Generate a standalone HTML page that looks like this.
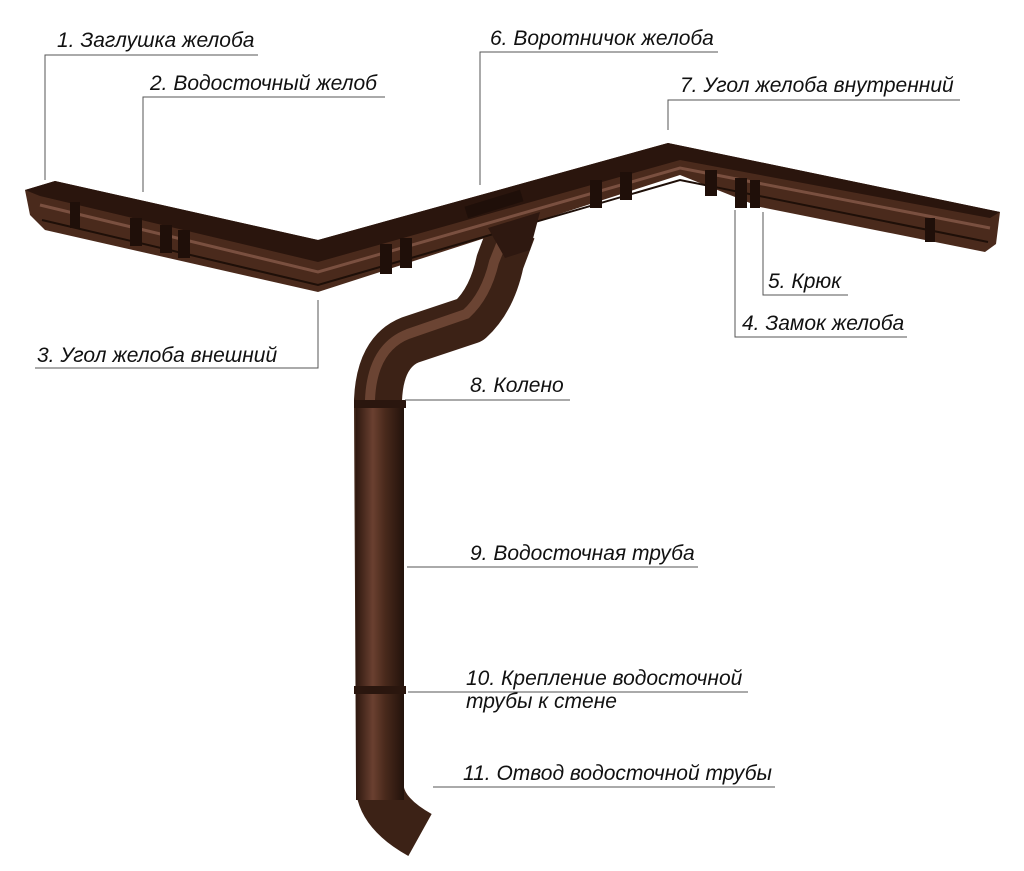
<!DOCTYPE html>
<html><head><meta charset="utf-8"><style>
html,body{margin:0;padding:0;background:#fff}
svg{display:block}
text{font-family:"Liberation Sans",sans-serif;font-style:italic;font-size:21px;fill:#111}
</style></head><body>
<svg width="1024" height="871" viewBox="0 0 1024 871">
<defs>
<linearGradient id="pg" x1="0" x2="1" y1="0" y2="0">
<stop offset="0" stop-color="#2e1810"/><stop offset="0.35" stop-color="#6a4030"/><stop offset="0.6" stop-color="#4a2a1c"/><stop offset="1" stop-color="#22120b"/>
</linearGradient>
</defs>
<path d="M512 230 L500 262 Q492 300 470 320 L410 340 Q380 352 378 400 L380 790 Q384 815 420 835" fill="none" stroke="#3c2216" stroke-width="48" stroke-linejoin="round"/>
<path d="M506 232 L494 262 Q486 296 466 314 L408 334 Q372 348 370 400 L372 790" fill="none" stroke="#6b4433" stroke-width="10"/>
<rect x="356" y="400" width="48" height="400" fill="url(#pg)"/>
<rect x="354" y="400" width="52" height="8" fill="#2a160e"/>
<rect x="354" y="686" width="52" height="8" fill="#2a160e"/>
<polygon points="25,190 55,181 318,240 668,143 1000,212 996,244 985,252 760,207 680,175 318,292 45,230 30,215" fill="#4a2a1c"/>
<polygon points="25,190 55,181 318,240 668,143 1000,212 990,218 680,160 318,262 40,196" fill="#2a150d"/>
<polyline points="40,205 318,272 680,168 990,228" fill="none" stroke="#7a5040" stroke-width="3"/>
<polyline points="42,220 318,285 680,180 988,242" fill="none" stroke="#1e0f08" stroke-width="2"/>
<polygon points="488,228 540,212 530,250 505,258" fill="#2e1810"/>
<g fill="#1f0f09">
<rect x="70" y="202" width="10" height="26"/><rect x="130" y="218" width="12" height="28"/><rect x="160" y="225" width="12" height="28"/><rect x="178" y="230" width="12" height="28"/>
<rect x="380" y="244" width="12" height="30"/><rect x="400" y="238" width="12" height="30"/>
<rect x="590" y="180" width="12" height="28"/><rect x="620" y="172" width="12" height="28"/>
<rect x="705" y="170" width="12" height="26"/><rect x="735" y="178" width="12" height="30"/><rect x="750" y="180" width="10" height="28"/>
<rect x="925" y="218" width="10" height="24"/>
<rect x="465" y="198" width="58" height="12" transform="rotate(-17 494 204)"/>
</g>
<g stroke="#555" stroke-width="1" fill="none">
<polyline points="45,180 45,55 258,55"/>
<polyline points="143,192 143,97 385,97"/>
<polyline points="480,185 480,52 718,52"/>
<polyline points="668,130 668,100 960,100"/>
<polyline points="763,212 763,295 848,295"/>
<polyline points="735,210 735,337 907,337"/>
<polyline points="318,300 318,368 35,368"/>
<line x1="405" y1="400" x2="570" y2="400"/>
<line x1="407" y1="567" x2="698" y2="567"/>
<line x1="408" y1="692" x2="748" y2="692"/>
<line x1="433" y1="787" x2="775" y2="787"/>
</g>
<text x="57" y="47">1. Заглушка желоба</text>
<text x="150" y="90">2. Водосточный желоб</text>
<text x="490" y="45">6. Воротничок желоба</text>
<text x="680" y="92">7. Угол желоба внутренний</text>
<text x="768" y="288">5. Крюк</text>
<text x="742" y="330">4. Замок желоба</text>
<text x="37" y="362">3. Угол желоба внешний</text>
<text x="470" y="392">8. Колено</text>
<text x="470" y="560">9. Водосточная труба</text>
<text x="466" y="685">10. Крепление водосточной</text>
<text x="466" y="708">трубы к стене</text>
<text x="463" y="780">11. Отвод водосточной трубы</text>
</svg>
</body></html>
